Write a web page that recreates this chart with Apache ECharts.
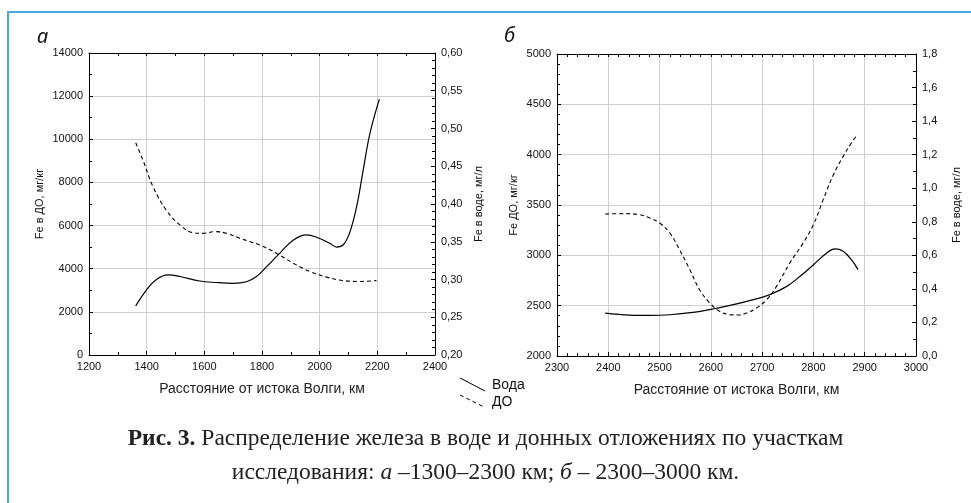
<!DOCTYPE html>
<html>
<head>
<meta charset="utf-8">
<script src="https://cdn.jsdelivr.net/npm/echarts@6/dist/echarts.min.js"></script>
<style>
  html, body { margin: 0; padding: 0; background: #fff; }
  #main { width: 971px; height: 503px; }
</style>
</head>
<body>
<div id="main"></div>
<script>
// участок а: 1300-2300 км
var kmVodaA = [1362, 1399, 1434, 1474, 1515, 1584, 1642, 1700, 1746, 1781, 1816, 1862, 1908, 1954, 1989, 2035, 2059, 2082, 2105, 2128, 2151, 2174, 2207];
var vodaA   = [0.265, 0.286, 0.300, 0.306, 0.304, 0.298, 0.296, 0.295, 0.297, 0.304, 0.317, 0.335, 0.352, 0.359, 0.356, 0.348, 0.343, 0.346, 0.363, 0.396, 0.445, 0.493, 0.539];
var kmDoA   = [1362, 1387, 1422, 1468, 1515, 1561, 1596, 1637, 1677, 1723, 1792, 1850, 1908, 1966, 2024, 2082, 2140, 2197];
var doA     = [9840, 9040, 7800, 6720, 6030, 5670, 5640, 5720, 5640, 5410, 5100, 4720, 4260, 3870, 3610, 3450, 3410, 3450];

// участок б: 2300-3000 км
var kmVodaB = [2394, 2442, 2481, 2520, 2565, 2604, 2644, 2683, 2715, 2748, 2774, 2800, 2826, 2842, 2858, 2874, 2887];
var vodaB   = [0.256, 0.244, 0.242, 0.246, 0.260, 0.280, 0.306, 0.336, 0.366, 0.415, 0.475, 0.544, 0.614, 0.638, 0.624, 0.574, 0.515];
var kmDoB   = [2394, 2429, 2461, 2481, 2500, 2520, 2539, 2559, 2578, 2598, 2617, 2637, 2653, 2670, 2689, 2709, 2728, 2754, 2780, 2800, 2819, 2839, 2858, 2874, 2886];
var doB     = [3411, 3414, 3404, 3371, 3321, 3222, 3056, 2858, 2659, 2526, 2444, 2411, 2407, 2427, 2477, 2560, 2692, 2924, 3123, 3305, 3553, 3801, 3983, 4116, 4202];

var xTitle = 'Расстояние от истока Волги, км';

function pairs(xs, ys) {
    return xs.map(function (x, i) { return [x, ys[i]]; });
}

var axisFont = { color: '#111', fontSize: 11, fontFamily: 'Liberation Sans' };
var lineBlack = { lineStyle: { color: '#000', width: 1 } };
var gridLine = { show: true, lineStyle: { color: '#cfcfcf', width: 1 } };

function plain(v) { return String(v); }
function comma(d) {
    return function (v) { return v.toFixed(d).replace('.', ','); };
}

function xAxisBottom(grid, min, max, interval, minorSplit) {
    return {
        type: 'value', gridIndex: grid, position: 'bottom',
        min: min, max: max, interval: interval,
        axisLine: lineBlack,
        axisTick: { inside: true, length: 4, lineStyle: { color: '#000' } },
        minorTick: { show: true, splitNumber: minorSplit, length: 3, lineStyle: { color: '#000' } },
        axisLabel: Object.assign({ margin: 6, formatter: plain }, axisFont),
        splitLine: gridLine,
        name: xTitle, nameLocation: 'middle', nameGap: 27,
        nameTextStyle: { color: '#222', fontSize: 14, fontFamily: 'Liberation Sans' }
    };
}

function xAxisTop(grid, min, max, interval, minorSplit) {
    return {
        type: 'value', gridIndex: grid, position: 'top',
        min: min, max: max, interval: interval,
        axisLine: lineBlack,
        axisTick: { inside: true, length: 3, lineStyle: { color: '#000' } },
        minorTick: { show: true, splitNumber: minorSplit, length: 3, lineStyle: { color: '#000' } },
        axisLabel: { show: false },
        splitLine: { show: false }
    };
}

function yAxis(grid, pos, min, max, interval, minorSplit, name, gap, fmt) {
    return {
        type: 'value', gridIndex: grid, position: pos,
        min: min, max: max, interval: interval,
        axisLine: { show: true, lineStyle: { color: '#000', width: 1 } },
        axisTick: { show: true, inside: true, length: 4, lineStyle: { color: '#000' } },
        minorTick: { show: true, splitNumber: minorSplit, length: 3, lineStyle: { color: '#000' } },
        axisLabel: Object.assign({ margin: 6, formatter: fmt }, axisFont),
        splitLine: pos === 'left' ? gridLine : { show: false },
        name: name, nameLocation: 'middle', nameGap: gap, nameRotate: 90,
        nameTextStyle: { color: '#111', fontSize: 11, fontFamily: 'Liberation Sans' }
    };
}

var captionStyle = {
    fontFamily: 'Liberation Serif', fontWeight: 'normal', fontSize: 23.5, color: '#222',
    rich: {
        b: { fontFamily: 'Liberation Serif', fontWeight: 'bold', fontSize: 23.5, color: '#222' },
        i: { fontFamily: 'Liberation Serif', fontStyle: 'italic', fontSize: 23.5, color: '#222' }
    }
};

var myChart = echarts.init(document.getElementById('main'));

myChart.setOption({
    backgroundColor: '#fff',
    animation: false,
    title: [
        { text: 'а', left: 32, top: 22, textStyle: { fontFamily: 'Noto Sans', fontStyle: 'italic', fontWeight: 'normal', fontSize: 20, color: '#111' } },
        { text: 'б', left: 499, top: 21, textStyle: { fontFamily: 'Noto Sans', fontStyle: 'italic', fontWeight: 'normal', fontSize: 20, color: '#111' } },
        { text: '{b|Рис. 3.} Распределение железа в воде и донных отложениях по участкам', left: 'center', top: 422, textStyle: captionStyle },
        { text: 'исследования: {i|а} –1300–2300 км; {i|б} – 2300–3000 км.', left: 'center', top: 456, textStyle: captionStyle }
    ],
    grid: [
        { left: 89, right: 536, top: 53, bottom: 148 },
        { left: 557, right: 55, top: 54, bottom: 147 }
    ],
    xAxis: [
        xAxisBottom(0, 1200, 2400, 200, 2),
        xAxisTop(0, 1200, 2400, 200, 2),
        xAxisBottom(1, 2300, 3000, 100, 5),
        xAxisTop(1, 2300, 3000, 100, 5)
    ],
    yAxis: [
        yAxis(0, 'left', 0, 14000, 2000, 2, 'Fe в ДО, мг/кг', 44, plain),
        yAxis(0, 'right', 0.2, 0.6, 0.05, 5, 'Fe в воде, мг/л', 38, comma(2)),
        yAxis(1, 'left', 2000, 5000, 500, 5, 'Fe ДО, мг/кг', 38, plain),
        yAxis(1, 'right', 0, 1.8, 0.2, 2, 'Fe в воде, мг/л', 35, comma(1))
    ],
    series: [
        {
            name: 'ДО', type: 'line', xAxisIndex: 0, yAxisIndex: 0,
            data: pairs(kmDoA, doA), smooth: 0.4, showSymbol: false,
            lineStyle: { color: '#000', width: 1.1, type: [4, 3] }
        },
        {
            name: 'Вода', type: 'line', xAxisIndex: 0, yAxisIndex: 1,
            data: pairs(kmVodaA, vodaA), smooth: 0.4, showSymbol: false,
            lineStyle: { color: '#000', width: 1.2 }
        },
        {
            name: 'ДО', type: 'line', xAxisIndex: 2, yAxisIndex: 2,
            data: pairs(kmDoB, doB), smooth: 0.4, showSymbol: false,
            lineStyle: { color: '#000', width: 1.1, type: [4, 3] }
        },
        {
            name: 'Вода', type: 'line', xAxisIndex: 2, yAxisIndex: 3,
            data: pairs(kmVodaB, vodaB), smooth: 0.4, showSymbol: false,
            lineStyle: { color: '#000', width: 1.2 }
        }
    ],
    graphic: [
        // рамка рисунка
        { type: 'rect', shape: { x: 8, y: 12, width: 1200, height: 800 }, style: { fill: 'none', stroke: '#4ea4dc', lineWidth: 2 }, silent: true },
        // легенда
        { type: 'line', shape: { x1: 460, y1: 378, x2: 485, y2: 391 }, style: { stroke: '#000', lineWidth: 1 } },
        { type: 'line', shape: { x1: 460, y1: 395, x2: 484, y2: 407 }, style: { stroke: '#000', lineWidth: 1, lineDash: [4, 3] } },
        { type: 'text', left: 492, top: 378, style: { text: 'Вода', font: '14px "Liberation Sans"', fill: '#111' } },
        { type: 'text', left: 492, top: 395, style: { text: 'ДО', font: '14px "Liberation Sans"', fill: '#111' } }
    ]
});
</script>
</body>
</html>
